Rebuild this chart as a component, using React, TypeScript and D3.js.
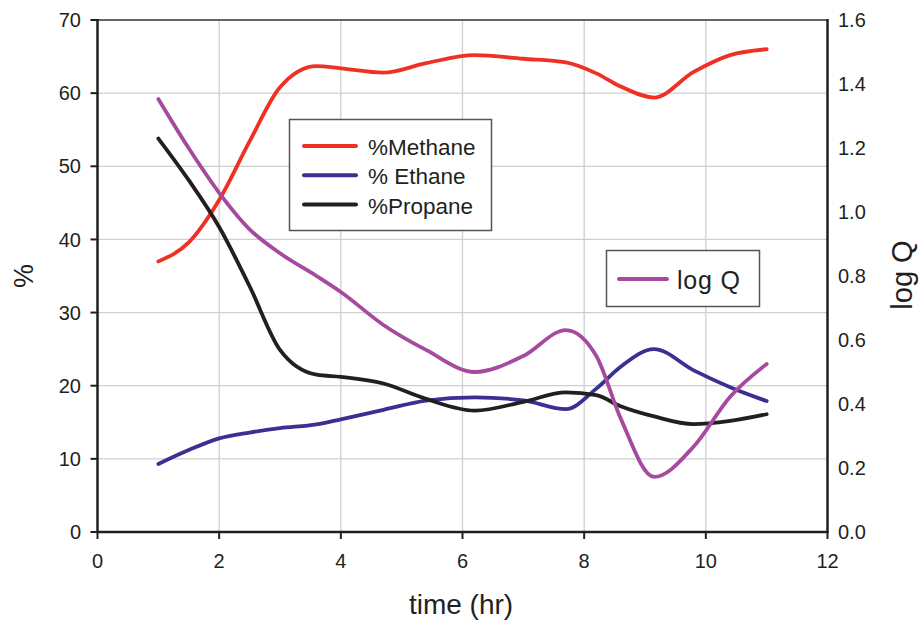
import React from "react";
import * as d3 from "d3";

const time = [1, 1.5, 2, 2.5, 3, 3.6, 4, 4.7, 5.4, 6.2, 7, 7.7, 8.2, 8.6, 9.15, 9.8, 10.4, 11];
const methane = [37.0, 39.6, 45.4, 53.4, 60.8, 63.7, 63.4, 62.8, 64.1, 65.2, 64.7, 64.2, 62.7, 60.9, 59.4, 62.9, 65.2, 66.0];
const ethane = [9.3, 11.2, 12.8, 13.6, 14.2, 14.7, 15.4, 16.7, 17.95, 18.4, 18.0, 16.8, 19.6, 22.6, 25.0, 22.1, 19.8, 17.9];
const propane = [53.8, 48.1, 41.7, 33.6, 24.9, 21.5, 21.2, 20.3, 18.2, 16.6, 17.8, 19.1, 18.7, 17.2, 15.8, 14.75, 15.2, 16.1];
const logQ = [1.353, 1.199, 1.06, 0.946, 0.871, 0.8, 0.75, 0.647, 0.569, 0.5, 0.55, 0.631, 0.55, 0.355, 0.172, 0.267, 0.423, 0.525];

const xTicks = [0, 2, 4, 6, 8, 10, 12];
const leftTicks = [0, 10, 20, 30, 40, 50, 60, 70];
const rightTicks = [0, 0.2, 0.4, 0.6, 0.8, 1.0, 1.2, 1.4, 1.6];
const legendLeft = ["%Methane", "% Ethane", "%Propane"];
const legendRight = ["log Q"];

const C_RED = "#EE3124";
const C_BLUE = "#3B2F91";
const C_BLACK = "#231F20";
const C_PURPLE = "#A54A9E";
const TXT = "#231F20";
const FONT = "'Liberation Sans', Arial, Helvetica, sans-serif";

export default function App() {
  const x = d3.scaleLinear().domain([0, 12]).range([97.5, 827.5]);
  const yL = d3.scaleLinear().domain([0, 70]).range([532, 20]);
  const yR = d3.scaleLinear().domain([0, 1.6]).range([532, 20]);

  const mk = (vals: number[], y: d3.ScaleLinear<number, number>) =>
    d3
      .line<number>()
      .x((_, i) => x(time[i]))
      .y((v) => y(v))
      .curve(d3.curveMonotoneX)(vals) || "";

  const series = [
    { vals: methane, color: C_RED },
    { vals: ethane, color: C_BLUE },
    { vals: propane, color: C_BLACK },
  ];

  return (
    <svg width={919} height={624} style={{ position: "absolute", left: 0, top: 0, background: "#fff" }}>
      <rect x={0} y={0} width={919} height={624} fill="#fff" />
      {/* grid */}
      {xTicks.slice(1, -1).map((t) => (
        <line key={"gx" + t} x1={x(t)} x2={x(t)} y1={yL(70)} y2={yL(0)} stroke="#cfcfcf" strokeWidth={1.3} />
      ))}
      {leftTicks.slice(1, -1).map((t) => (
        <line key={"gy" + t} x1={x(0)} x2={x(12)} y1={yL(t)} y2={yL(t)} stroke="#cfcfcf" strokeWidth={1.3} />
      ))}
      {/* frame */}
      <line x1={x(0)} x2={x(12)} y1={yL(70)} y2={yL(70)} stroke="#333" strokeWidth={1.5} />
      <line x1={x(0)} x2={x(0)} y1={yL(70) - 1} y2={yL(0) + 1} stroke={TXT} strokeWidth={2.5} />
      <line x1={x(12)} x2={x(12)} y1={yL(70) - 1} y2={yL(0) + 1} stroke={TXT} strokeWidth={2.5} />
      <line x1={x(0) - 1} x2={x(12) + 1} y1={yL(0)} y2={yL(0)} stroke={TXT} strokeWidth={2.5} />
      {/* left ticks */}
      {leftTicks.map((t) => (
        <g key={"lt" + t}>
          <line x1={x(0) - 7} x2={x(0)} y1={yL(t)} y2={yL(t)} stroke={TXT} strokeWidth={2} />
          <text x={81} y={yL(t)} dy="0.36em" textAnchor="end" fontSize={20} fontFamily={FONT} fill={TXT}>
            {t}
          </text>
        </g>
      ))}
      {/* bottom ticks */}
      {xTicks.map((t) => (
        <g key={"bt" + t}>
          <line x1={x(t)} x2={x(t)} y1={yL(0)} y2={yL(0) + 7} stroke={TXT} strokeWidth={2} />
          <text x={x(t)} y={568} textAnchor="middle" fontSize={20} fontFamily={FONT} fill={TXT}>
            {t}
          </text>
        </g>
      ))}
      {/* right ticks */}
      {rightTicks.map((t) => (
        <text key={"rt" + t} x={838} y={yR(t)} dy="0.36em" textAnchor="start" fontSize={20} fontFamily={FONT} fill={TXT}>
          {t.toFixed(1)}
        </text>
      ))}
      {/* axis titles */}
      <text x={461} y={614} textAnchor="middle" fontSize={28} fontFamily={FONT} fill={TXT}>
        time (hr)
      </text>
      <text transform="translate(33,276) rotate(-90)" textAnchor="middle" fontSize={27} fontFamily={FONT} fill={TXT}>
        %
      </text>
      <text transform="translate(912,275) rotate(-90)" textAnchor="middle" fontSize={29} fontFamily={FONT} fill={TXT}>
        log Q
      </text>
      {/* series */}
      {series.map((s, i) => (
        <path key={"s" + i} d={mk(s.vals, yL)} fill="none" stroke={s.color} strokeWidth={3.8} strokeLinecap="round" strokeLinejoin="round" />
      ))}
      <path d={mk(logQ, yR)} fill="none" stroke={C_PURPLE} strokeWidth={3.8} strokeLinecap="round" strokeLinejoin="round" />
      {/* legend 1 */}
      <rect x={289.5} y={119.5} width={202} height={111} fill="#fff" stroke="#555" strokeWidth={1.5} />
      {legendLeft.map((lab, i) => (
        <g key={"lg" + i}>
          <line x1={304} x2={356} y1={146 + i * 29.3} y2={146 + i * 29.3} stroke={series[i].color} strokeWidth={4} strokeLinecap="round" />
          <text x={368} y={147 + i * 29.3} dy="0.36em" fontSize={22.5} fontFamily={FONT} fill={TXT}>
            {lab}
          </text>
        </g>
      ))}
      {/* legend 2 */}
      <rect x={606.5} y={250.5} width={153} height={56} fill="#fff" stroke="#555" strokeWidth={1.5} />
      <line x1={619} x2={667} y1={279} y2={279} stroke={C_PURPLE} strokeWidth={4} strokeLinecap="round" />
      <text x={677} y={280} dy="0.36em" fontSize={25} fontFamily={FONT} fill={TXT} letterSpacing={0.8}>
        {legendRight[0]}
      </text>
    </svg>
  );
}
